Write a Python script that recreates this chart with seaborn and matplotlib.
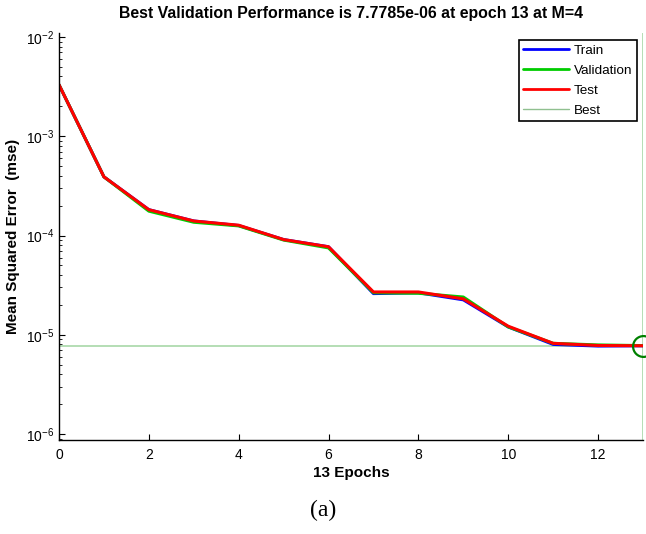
import matplotlib
matplotlib.use("Agg")
import matplotlib.pyplot as plt
import seaborn as sns
import numpy as np
import pandas as pd
from matplotlib.lines import Line2D

epochs = list(range(14))
train = [3.3e-3, 3.9e-4, 1.82e-4, 1.40e-4, 1.26e-4, 9.1e-5, 7.7e-5, 2.6e-5, 2.65e-5, 2.25e-5, 1.2e-5, 8.0e-6, 7.7e-6, 7.75e-6]
validation = [3.3e-3, 3.9e-4, 1.76e-4, 1.36e-4, 1.25e-4, 9.0e-5, 7.5e-5, 2.65e-5, 2.62e-5, 2.4e-5, 1.2e-5, 8.2e-6, 7.9e-6, 7.7785e-6]
test = [3.3e-3, 3.9e-4, 1.82e-4, 1.40e-4, 1.27e-4, 9.1e-5, 7.7e-5, 2.7e-5, 2.7e-5, 2.3e-5, 1.22e-5, 8.2e-6, 7.8e-6, 7.75e-6]
best_epoch = 13
best_value = 7.7785e-6

sns.set_style("white")
plt.rcParams['font.family'] = ['Liberation Sans', 'DejaVu Sans']
plt.rcParams['mathtext.fontset'] = 'custom'
plt.rcParams['mathtext.rm'] = 'Liberation Sans'
plt.rcParams['mathtext.it'] = 'Liberation Sans'
plt.rcParams['text.color'] = 'black'
plt.rcParams['axes.labelcolor'] = 'black'
plt.rcParams['xtick.color'] = 'black'
plt.rcParams['ytick.color'] = 'black'

fig = plt.figure(figsize=(6.46, 5.34), dpi=100)
ax = fig.add_axes([59/646, 1-440/534, (643-59)/646, (440-33)/534])

df = pd.DataFrame({"Epoch": epochs * 3,
                   "MSE": train + validation + test,
                   "Set": ["Train"] * 14 + ["Validation"] * 14 + ["Test"] * 14})
sns.lineplot(data=df, x="Epoch", y="MSE", hue="Set",
             palette={"Train": "#0000ff", "Validation": "#00cc00", "Test": "#ff0000"},
             linewidth=2.2, ax=ax, legend=False)

ax.axhline(best_value, color="#a8d8a8", linewidth=1.2, zorder=1)
ax.axvline(best_epoch, color="#a8d8a8", linewidth=1.2, zorder=1)
ax.plot([best_epoch], [best_value], marker="o", markersize=15, markerfacecolor="none",
        markeredgecolor="#008000", markeredgewidth=1.6, clip_on=False, zorder=5)

ax.set_yscale("log")
ax.set_xlim(0, 13)
ax.set_ylim(10**-6.06, 10**-1.96)
ax.set_xticks([0, 2, 4, 6, 8, 10, 12])
ax.set_yticks([1e-6, 1e-5, 1e-4, 1e-3, 1e-2])
ax.tick_params(axis="both", which="both", direction="in", labelsize=10, length=4,
               color="black", bottom=True, left=True, top=False, right=False)
ax.tick_params(axis="y", which="minor", length=2.5, left=True)
ax.tick_params(axis="x", pad=6)
for s in ["top", "right"]:
    ax.spines[s].set_visible(False)
for s in ["left", "bottom"]:
    ax.spines[s].set_color("black")
    ax.spines[s].set_linewidth(1.0)

ax.set_xlabel("13 Epochs", fontsize=11, fontweight="bold", labelpad=3)
ax.set_ylabel("Mean Squared Error  (mse)", fontsize=11, fontweight="bold", labelpad=4)
ax.set_title("Best Validation Performance is 7.7785e-06 at epoch 13 at M=4",
             fontsize=11.4, fontweight="bold", pad=11)

handles = [Line2D([], [], color="#0000ff", lw=2),
           Line2D([], [], color="#00cc00", lw=2),
           Line2D([], [], color="#ff0000", lw=2),
           Line2D([], [], color="#90c090", lw=1)]
leg = ax.legend(handles, ["Train", "Validation", "Test", "Best"], loc="upper right",
                bbox_to_anchor=(0.99, 0.983), fontsize=9.7, fancybox=False, framealpha=1,
                edgecolor="black", handlelength=3.4, borderpad=0.35, labelspacing=0.55,
                handletextpad=0.35, borderaxespad=0)
leg.get_frame().set_linewidth(1.2)

fig.text(0.5, 1-510/534, "(a)", ha="center", va="center", fontsize=17,
         family=["Liberation Serif", "DejaVu Serif"])

fig.savefig("out.png", dpi=100)
